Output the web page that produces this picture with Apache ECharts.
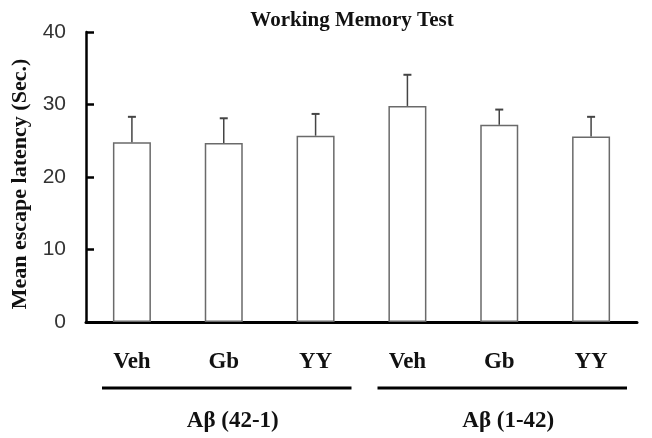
<!DOCTYPE html>
<html>
<head>
<meta charset="utf-8">
<script src="https://cdn.jsdelivr.net/npm/echarts@6/dist/echarts.min.js"></script>
<style>
  html, body {margin: 0; padding: 0; background: #fff;}
  #chart {width: 652px; height: 438px;}
</style>
</head>
<body>
<div id="chart"></div>
<script>
// treatments on the x axis, two Abeta groups of three
const categories = ['Veh', 'Gb', 'YY', 'Veh', 'Gb', 'YY'];
// mean escape latency (sec.)
const means = [24.8, 24.7, 25.7, 29.8, 27.2, 25.6];
// upper error (sem), drawn above the bar only
const errors = [3.5, 3.4, 3.0, 4.3, 2.1, 2.7];
// groups under the axis
const groupNames = ['A\u03b2 (42-1)', 'A\u03b2 (1-42)'];
const groupFrom = [0, 3];
const groupTo = [2, 5];
const yTicks = {min: 0, max: 40, interval: 10};

const serif = '"Liberation Serif", "Times New Roman", serif';
const sans = '"Liberation Sans", Arial, sans-serif';

const chart = echarts.init(document.getElementById('chart'));

const option = {
    animation: false,
    backgroundColor: '#fff',
    title: {
        text: 'Working Memory Test',
        left: 347,
        top: 5,
        textAlign: 'center',
        textStyle: {fontFamily: serif, fontWeight: 'bold', fontSize: 21, color: '#111'}
    },
    grid: {left: 86, right: 15, top: 32, bottom: 116, containLabel: false},
    xAxis: {
        type: 'category',
        data: categories,
        axisLine: {lineStyle: {color: '#000', width: 3}},
        axisTick: {inside: true, length: 8, lineStyle: {color: '#000', width: 2.5}},
        axisLabel: {
            margin: 29,
            fontFamily: serif, fontWeight: 'bold', fontSize: 23, color: '#111',
            interval: 0
        },
        splitLine: {show: false}
    },
    yAxis: {
        type: 'value',
        min: yTicks.min,
        max: yTicks.max,
        interval: yTicks.interval,
        name: 'Mean escape latency (Sec.)',
        nameLocation: 'middle',
        nameGap: 55,
        nameTextStyle: {fontFamily: serif, fontWeight: 'bold', fontSize: 22, color: '#111', padding: [0, 14, 0, 0]},
        axisLine: {show: true, lineStyle: {color: '#000', width: 2.5}},
        axisTick: {show: true, inside: true, length: 8, lineStyle: {color: '#000', width: 2.5}},
        axisLabel: {margin: 20, fontFamily: sans, fontSize: 21, color: '#333'},
        splitLine: {show: false}
    },
    series: [
        {
            type: 'bar',
            data: means,
            barWidth: 38,
            itemStyle: {color: '#fff', borderColor: '#6a6a6a', borderWidth: 1.5},
            z: 2
        },
        {
            type: 'custom',
            data: means.map((m, i) => [i, m, m + errors[i]]),
            z: 3,
            renderItem: (params, api) => {
                let base = api.coord([api.value(0), api.value(1)]);
                let top = api.coord([api.value(0), api.value(2)]);
                let style = {stroke: '#444', lineWidth: 1.5};
                return {
                    type: 'group',
                    children: [
                        {type: 'line', shape: {x1: base[0], y1: base[1], x2: top[0], y2: top[1]}, style},
                        {type: 'line', shape: {x1: top[0] - 4, y1: top[1], x2: top[0] + 4, y2: top[1]}, style: {stroke: '#444', lineWidth: 2}}
                    ]
                };
            }
        }
    ]
};

chart.setOption(option);

// group lines and labels under the tick labels, placed from the category scale
const px = i => chart.convertToPixel({xAxisIndex: 0}, i);
const step = px(1) - px(0);
const elements = [];
groupNames.forEach((name, g) => {
    let x1 = px(groupFrom[g]) - step / 2 + 16;
    let x2 = px(groupTo[g]) + step / 2 - 10;
    elements.push({
        type: 'line',
        shape: {x1, y1: 388, x2, y2: 388},
        style: {stroke: '#000', lineWidth: 3}
    });
    elements.push({
        type: 'text',
        x: (x1 + x2) / 2 + 6,
        y: 421,
        style: {
            text: name, fontFamily: serif, fontWeight: 'bold', fontSize: 23, fill: '#111',
            align: 'center', verticalAlign: 'middle'
        }
    });
});
chart.setOption({graphic: {elements}});
</script>
</body>
</html>
